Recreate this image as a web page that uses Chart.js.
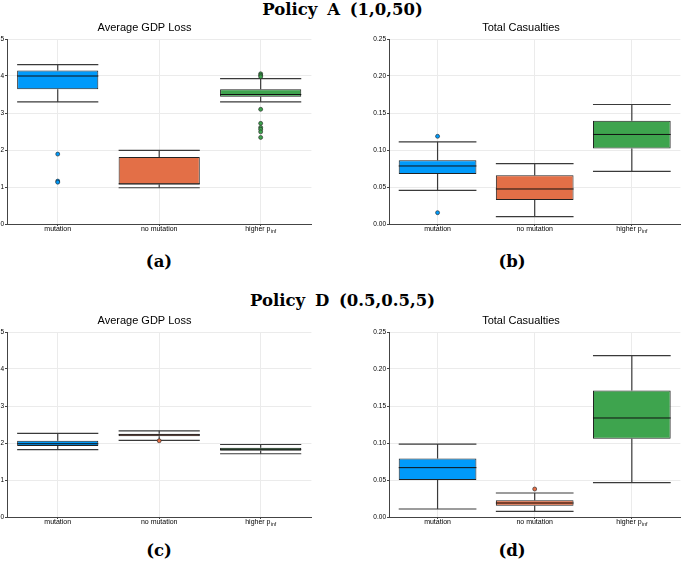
<!DOCTYPE html>
<html>
<head>
<meta charset="utf-8">
<script src="https://cdn.jsdelivr.net/npm/chart.js@4.4.1/dist/chart.umd.min.js"></script>
<style>
  html, body { margin: 0; padding: 0; background: #fff; }
  body { width: 685px; height: 563px; position: relative; overflow: hidden; }
  .hdr { position: absolute; left: 0; width: 685px; text-align: center; line-height: 20px;
         font: bold 16.5px "DejaVu Serif", serif; word-spacing: 4px; color: #000; }
  .lbl { position: absolute; width: 60px; text-align: center; line-height: 20px;
         font: bold 16.5px "DejaVu Serif", serif; color: #000; }
  canvas { position: absolute; }
</style>
</head>
<body>
<div class="hdr" style="top:0px">Policy A (1,0,50)</div>
<div class="hdr" style="top:291px">Policy D (0.5,0.5,5)</div>
<div class="lbl" style="left:129px;top:252px">(a)</div>
<div class="lbl" style="left:482px;top:252px">(b)</div>
<div class="lbl" style="left:129px;top:541px">(c)</div>
<div class="lbl" style="left:482px;top:541px">(d)</div>

<canvas id="cA1" width="339" height="223" style="left:-23px;top:17px"></canvas>
<canvas id="cA2" width="326" height="223" style="left:359px;top:17px"></canvas>
<canvas id="cD1" width="339" height="223" style="left:-23px;top:310px"></canvas>
<canvas id="cD2" width="326" height="223" style="left:359px;top:310px"></canvas>

<script>
// 箱ひげ図データ
const categories = ['mutation', 'no mutation', 'higher p_inf'];
const boxColors = ['#009AFA', '#E36F47', '#3EA44E'];

// Policy A - Average GDP Loss
const gdpA_lo  = [3.30, 0.98, 3.30];
const gdpA_q1  = [3.64, 1.07, 3.44];
const gdpA_med = [4.00, 1.085, 3.50];
const gdpA_q3  = [4.15, 1.81, 3.64];
const gdpA_hi  = [4.31, 1.99, 3.93];
const gdpA_out = [[1.89, 1.16, 1.13], [], [4.06, 4.02, 3.98, 3.10, 2.72, 2.61, 2.56, 2.49, 2.34]];

// Policy A - Total Casualties
const casA_lo  = [0.0455, 0.0099, 0.071];
const casA_q1  = [0.0676, 0.0324, 0.102];
const casA_med = [0.0784, 0.0473, 0.121];
const casA_q3  = [0.0860, 0.0658, 0.1395];
const casA_hi  = [0.1110, 0.0815, 0.1615];
const casA_out = [[0.1185, 0.0153], [], []];

// Policy D - Average GDP Loss
const gdpD_lo  = [1.82, 2.07, 1.71];
const gdpD_q1  = [1.92, 2.18, 1.79];
const gdpD_med = [1.98, 2.22, 1.83];
const gdpD_q3  = [2.06, 2.25, 1.87];
const gdpD_hi  = [2.26, 2.33, 1.96];
const gdpD_out = [[], [2.06], []];

// Policy D - Total Casualties
const casD_lo  = [0.0108, 0.0077, 0.0464];
const casD_q1  = [0.0500, 0.0153, 0.1059];
const casD_med = [0.0667, 0.0189, 0.1338];
const casD_q3  = [0.0790, 0.0225, 0.1710];
const casD_hi  = [0.0986, 0.0324, 0.2180];
const casD_out = [[], [0.0378], []];

const gdpTicks = { max: 5, step: 1, digits: 0 };
const casTicks = { max: 0.25, step: 0.05, digits: 2 };

// ひげ・中央値を描くプラグイン
const whiskerPlugin = {
  id: 'whiskers',
  afterDatasetDraw(chart, args, opts) {
    if (args.index !== 0) return;
    const y = chart.scales.y;
    const ctx = chart.ctx;
    const seg = (x1, y1, x2, y2) => { ctx.beginPath(); ctx.moveTo(x1, y1); ctx.lineTo(x2, y2); ctx.stroke(); };
    ctx.save();
    chart.getDatasetMeta(0).data.forEach((bar, i) => {
      const h = bar.width / 2, x = bar.x;
      const pLo = y.getPixelForValue(opts.lo[i]);
      const pHi = y.getPixelForValue(opts.hi[i]);
      const pQ1 = y.getPixelForValue(opts.q1[i]);
      const pQ3 = y.getPixelForValue(opts.q3[i]);
      const pMed = y.getPixelForValue(opts.med[i]);
      ctx.strokeStyle = '#3a3a3a';
      ctx.lineWidth = 1.2;
      seg(x, pQ3, x, pHi);
      seg(x, pQ1, x, pLo);
      seg(x - h, pHi, x + h, pHi);
      seg(x - h, pLo, x + h, pLo);
      ctx.strokeStyle = '#111';
      ctx.lineWidth = 1;
      seg(x - h, pMed, x + h, pMed);
    });
    ctx.restore();
  }
};

// カテゴリラベル（添字つき）
const catLabelPlugin = {
  id: 'catLabels',
  afterDraw(chart) {
    const xs = chart.scales.x;
    const ctx = chart.ctx;
    const top = chart.chartArea.bottom + 5.5;
    const mainFont = '7px "Liberation Sans", sans-serif';
    const subFont = '5px "Liberation Sans", sans-serif';
    ctx.save();
    ctx.fillStyle = '#000';
    ctx.textBaseline = 'middle';
    ctx.textAlign = 'left';
    categories.forEach((c, i) => {
      const [main, sub] = c.split('_');
      ctx.font = mainFont;
      const w1 = ctx.measureText(main).width + (sub ? 0.4 : 0);
      ctx.font = subFont;
      const w2 = sub ? ctx.measureText(sub).width : 0;
      const x0 = xs.getPixelForValue(i) - (w1 + w2) / 2;
      ctx.font = mainFont;
      ctx.fillText(main, x0, top);
      if (sub) {
        ctx.font = subFont;
        ctx.fillText(sub, x0 + w1, top + 2);
      }
    });
    ctx.restore();
  }
};

function makeBox(id, title, lo, q1, med, q3, hi, out, tk, padRight) {
  const outPts = [], outCols = [];
  out.forEach((arr, i) => arr.forEach(v => { outPts.push({ x: categories[i], y: v }); outCols.push(boxColors[i]); }));

  new Chart(document.getElementById(id), {
    type: 'bar',
    data: {
      labels: categories,
      datasets: [
        {
          data: q1.map((v, i) => [v, q3[i]]),
          backgroundColor: boxColors,
          borderColor: '#222',
          borderWidth: 1,
          borderSkipped: false,
          categoryPercentage: 0.8,
          barPercentage: 1.0,
        },
        {
          type: 'line',
          data: outPts,
          showLine: false,
          order: -1,
          pointRadius: 2,
          pointBackgroundColor: outCols,
          pointBorderColor: '#222',
          pointBorderWidth: 0.6,
        }
      ]
    },
    options: {
      responsive: false,
      animation: false,
      events: [],
      layout: { padding: { left: 0, right: padRight, top: 0, bottom: 0 } },
      plugins: {
        legend: { display: false },
        tooltip: { enabled: false },
        title: {
          display: true, text: title, color: '#000',
          font: { family: '"Liberation Sans", sans-serif', size: 11, weight: 'normal', lineHeight: 1.2 },
          padding: { top: 4, bottom: 4.8 }
        },
        whiskers: { lo, q1, med, q3, hi },
      },
      scales: {
        x: {
          type: 'category',
          offset: true,
          grid: { offset: false, color: '#ebebeb', lineWidth: 1, tickLength: 2, tickColor: '#444' },
          border: { color: '#444', width: 1 },
          ticks: { display: false },
          afterFit: s => { s.height = 16; }
        },
        y: {
          min: 0, max: tk.max,
          grid: { color: '#ebebeb', lineWidth: 1, tickLength: 2, tickColor: '#444' },
          border: { color: '#444', width: 1 },
          ticks: {
            stepSize: tk.step, padding: 1, color: '#000',
            font: { family: '"Liberation Sans", sans-serif', size: 6.5 },
            callback: v => v.toFixed(tk.digits)
          },
          afterFit: s => { s.width = 30; }
        }
      }
    },
    plugins: [whiskerPlugin, catLabelPlugin]
  });
}

makeBox('cA1', 'Average GDP Loss', gdpA_lo, gdpA_q1, gdpA_med, gdpA_q3, gdpA_hi, gdpA_out, gdpTicks, 4);
makeBox('cA2', 'Total Casualties', casA_lo, casA_q1, casA_med, casA_q3, casA_hi, casA_out, casTicks, 2);
makeBox('cD1', 'Average GDP Loss', gdpD_lo, gdpD_q1, gdpD_med, gdpD_q3, gdpD_hi, gdpD_out, gdpTicks, 4);
makeBox('cD2', 'Total Casualties', casD_lo, casD_q1, casD_med, casD_q3, casD_hi, casD_out, casTicks, 2);
</script>
</body>
</html>
